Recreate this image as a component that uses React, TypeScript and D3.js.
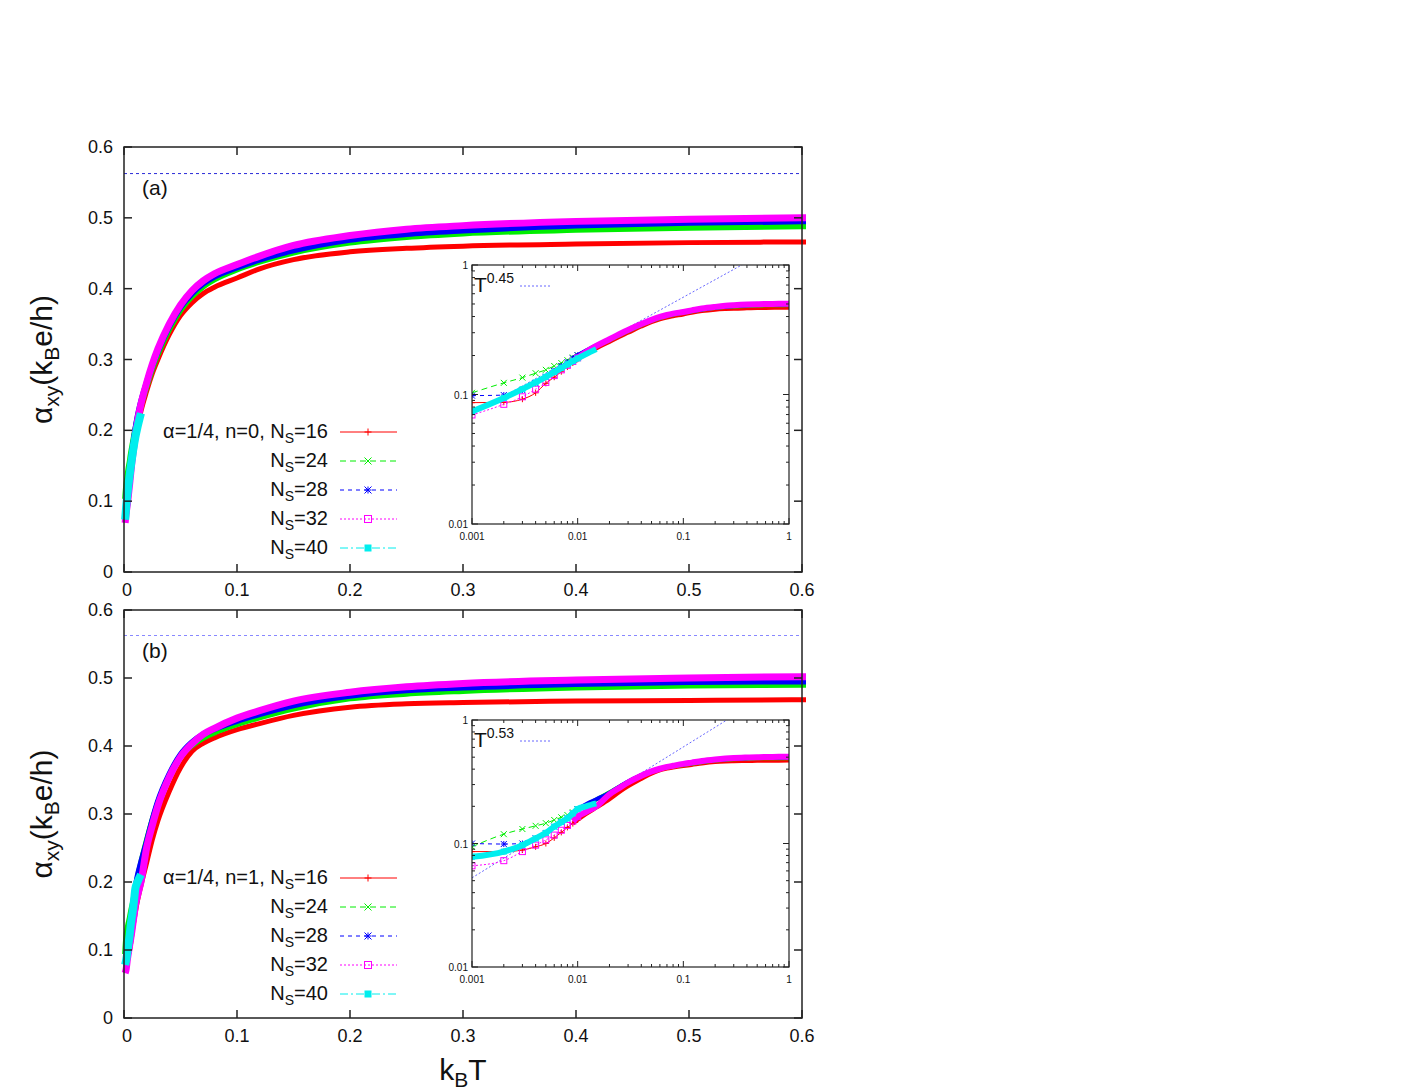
import React from 'react';
import * as d3 from 'd3';

// temperatures (k_B T) shared by all series
const temps = [0.001, 0.002, 0.003, 0.004, 0.005, 0.006, 0.007, 0.008, 0.009, 0.01, 0.012, 0.015, 0.02, 0.025, 0.03, 0.04, 0.05, 0.06, 0.07, 0.08, 0.1, 0.12, 0.15, 0.2, 0.25, 0.3, 0.4, 0.5, 0.6, 0.8, 1.0];

// panel (a): n=0
const a16 = [0.0865, 0.087, 0.092, 0.103, 0.122, 0.136, 0.15, 0.163, 0.175, 0.187, 0.205, 0.227, 0.255, 0.28, 0.3, 0.335, 0.362, 0.38, 0.393, 0.402, 0.415, 0.428, 0.441, 0.452, 0.457, 0.46, 0.463, 0.465, 0.466, 0.467, 0.467];
const a24 = [0.103, 0.123, 0.135, 0.146, 0.155, 0.166, 0.175, 0.184, 0.193, 0.201, 0.217, 0.236, 0.262, 0.287, 0.308, 0.343, 0.37, 0.389, 0.403, 0.413, 0.427, 0.438, 0.451, 0.465, 0.473, 0.478, 0.483, 0.486, 0.488, 0.489, 0.49];
const a28 = [0.098, 0.099, 0.108, 0.122, 0.137, 0.152, 0.166, 0.178, 0.19, 0.201, 0.219, 0.24, 0.267, 0.291, 0.312, 0.347, 0.374, 0.393, 0.407, 0.417, 0.43, 0.441, 0.454, 0.469, 0.477, 0.482, 0.489, 0.493, 0.495, 0.496, 0.497];
const a32 = [0.0695, 0.084, 0.096, 0.11, 0.124, 0.14, 0.155, 0.168, 0.18, 0.192, 0.213, 0.237, 0.267, 0.293, 0.315, 0.35, 0.377, 0.397, 0.411, 0.421, 0.434, 0.446, 0.461, 0.475, 0.484, 0.489, 0.495, 0.498, 0.5, 0.501, 0.502];
const a40 = [0.074, 0.094, 0.11, 0.124, 0.137, 0.149, 0.16, 0.171, 0.181, 0.19, 0.205, 0.224];

// panel (b): n=1
const b16 = [0.086, 0.086, 0.0885, 0.094, 0.1, 0.111, 0.123, 0.135, 0.145, 0.155, 0.173, 0.195, 0.228, 0.262, 0.29, 0.333, 0.368, 0.392, 0.404, 0.412, 0.424, 0.433, 0.445, 0.457, 0.462, 0.464, 0.466, 0.467, 0.468, 0.468, 0.469];
const b24 = [0.094, 0.119, 0.131, 0.139, 0.146, 0.155, 0.163, 0.17, 0.179, 0.188, 0.205, 0.227, 0.26, 0.29, 0.316, 0.356, 0.385, 0.401, 0.412, 0.42, 0.432, 0.442, 0.455, 0.47, 0.477, 0.481, 0.486, 0.489, 0.49, 0.491, 0.491];
const b28 = [0.1, 0.099, 0.1, 0.11, 0.121, 0.137, 0.149, 0.16, 0.175, 0.189, 0.208, 0.228, 0.258, 0.29, 0.318, 0.358, 0.387, 0.405, 0.417, 0.425, 0.437, 0.447, 0.46, 0.474, 0.482, 0.486, 0.491, 0.494, 0.495, 0.496, 0.497];
const b32 = [0.066, 0.0726, 0.086, 0.097, 0.107, 0.117, 0.128, 0.14, 0.152, 0.165, 0.18, 0.2, 0.25, 0.283, 0.312, 0.354, 0.384, 0.403, 0.417, 0.426, 0.441, 0.452, 0.466, 0.479, 0.487, 0.492, 0.497, 0.5, 0.502, 0.503, 0.504];
const b40 = [0.078, 0.086, 0.097, 0.11, 0.122, 0.137, 0.149, 0.16, 0.175, 0.19, 0.2, 0.211];

// power-law guide lines in the insets (two end points, log-log)
const fitA = [{ t: 0.001, v: 0.071 }, { t: 1, v: 1.59 }];
const fitB = [{ t: 0.001, v: 0.0527 }, { t: 1, v: 2.05 }];
const refLevel = 0.5625;

const seriesNames = ['16', '24', '28', '32', '40'];
const xTicks = [0, 0.1, 0.2, 0.3, 0.4, 0.5, 0.6];
const yTicks = [0, 0.1, 0.2, 0.3, 0.4, 0.5, 0.6];
const insetTicks = [0.001, 0.01, 0.1, 1];
const insetYTicks = [0.01, 0.1, 1];

const styles = [
  { color: '#ff0000', dash: null, mark: 'plus', band: 5, iband: 4 },
  { color: '#00ee00', dash: '6,4', mark: 'cross', band: 6, iband: 4 },
  { color: '#0000ff', dash: '4,4', mark: 'star', band: 6, iband: 4 },
  { color: '#ff00ff', dash: '2,2', mark: 'box', band: 7, iband: 6 },
  { color: '#00eeee', dash: '8,3,2,3', mark: 'fbox', band: 8, iband: 6 },
];

const FONT = '"Liberation Sans", Arial, Helvetica, sans-serif';
const X0 = 124;
const X1 = 802;

const Marker = ({ kind, x, y, s, color }) => {
  if (kind === 'plus') return <path d={`M${x - s},${y}H${x + s}M${x},${y - s}V${y + s}`} stroke={color} strokeWidth={1} fill="none" />;
  if (kind === 'cross') return <path d={`M${x - s},${y - s}L${x + s},${y + s}M${x - s},${y + s}L${x + s},${y - s}`} stroke={color} strokeWidth={1} fill="none" />;
  if (kind === 'star') return <path d={`M${x - s},${y}H${x + s}M${x},${y - s}V${y + s}M${x - s},${y - s}L${x + s},${y + s}M${x - s},${y + s}L${x + s},${y - s}`} stroke={color} strokeWidth={1} fill="none" />;
  if (kind === 'box') return <rect x={x - s} y={y - s} width={2 * s} height={2 * s} stroke={color} strokeWidth={1} fill="none" />;
  return <rect x={x - s} y={y - s} width={2 * s} height={2 * s} fill={color} />;
};

const Panel = ({ id, top, bottom, values, n, fit, fitLabel, refColor, inset, legendY, tag }) => {
  const x = d3.scaleLinear().domain([0, 0.6]).range([X0, X1]);
  const y = d3.scaleLinear().domain([0, 0.6]).range([bottom, top]);
  const ix = d3.scaleLog().domain([0.001, 1]).range([inset.left, inset.right]);
  const iy = d3.scaleLog().domain([0.01, 1]).range([inset.bottom, inset.top]);

  const rows = values.map(vals => vals.map((v, i) => ({ t: temps[i], v })));
  const line = d3.line().x(d => x(d.t)).y(d => y(d.v)).curve(d3.curveMonotoneX);
  const iline = d3.line().x(d => ix(d.t)).y(d => iy(d.v)).curve(d3.curveMonotoneX);
  const fitLine = d3.line().x(d => ix(d.t)).y(d => iy(d.v));

  const minors = [];
  [0.001, 0.01, 0.1].forEach(dec => {
    for (let k = 2; k <= 9; k++) minors.push(dec * k);
  });
  const yMinors = [];
  [0.01, 0.1].forEach(dec => {
    for (let k = 2; k <= 9; k++) yMinors.push(dec * k);
  });
  const iw = inset.right - inset.left;
  const ih = inset.bottom - inset.top;

  return (
    <g>
      <defs>
        <clipPath id={`main-${id}`}>
          <rect x={X0 - 6} y={top} width={X1 - X0 + 10} height={bottom - top + 6} />
        </clipPath>
        <clipPath id={`clip-${id}`}>
          <rect x={inset.left} y={inset.top} width={iw} height={ih} />
        </clipPath>
      </defs>

      {/* reference level */}
      <line x1={X0} x2={X1} y1={y(refLevel)} y2={y(refLevel)} stroke={refColor} strokeWidth={1} strokeDasharray="3,3" />

      {/* thick bands of dense markers */}
      <g clipPath={`url(#main-${id})`}>
        {rows.map((r, i) => (
          <path key={i} d={line(r)} fill="none" stroke={styles[i].color} strokeWidth={styles[i].band} />
        ))}
      </g>

      {/* frame and ticks */}
      <rect x={X0} y={top} width={X1 - X0} height={bottom - top} fill="none" stroke="#222" strokeWidth={1.5} />
      {xTicks.map(t => (
        <g key={t}>
          <line x1={x(t)} x2={x(t)} y1={bottom} y2={bottom - 8} stroke="#222" strokeWidth={1.5} />
          <line x1={x(t)} x2={x(t)} y1={top} y2={top + 8} stroke="#222" strokeWidth={1.5} />
          <text x={x(t) + (t === 0 ? 3 : 0)} y={bottom + 24} textAnchor="middle" fontSize={18} fontFamily={FONT} fill="#111">{t}</text>
        </g>
      ))}
      {yTicks.map(t => (
        <g key={t}>
          <line x1={X0} x2={X0 + 8} y1={y(t)} y2={y(t)} stroke="#222" strokeWidth={1.5} />
          <line x1={X1} x2={X1 - 8} y1={y(t)} y2={y(t)} stroke="#222" strokeWidth={1.5} />
          <text x={113} y={y(t) + 6} textAnchor="end" fontSize={18} fontFamily={FONT} fill="#111">{t}</text>
        </g>
      ))}

      <text x={142} y={top + 48} fontSize={21} fontFamily={FONT} fill="#111">{tag}</text>

      <text transform={`translate(52,${(top + bottom) / 2}) rotate(-90)`} textAnchor="middle" fontSize={30} fontFamily={FONT} fill="#111">
        α<tspan fontSize={21} dy={7}>xy</tspan><tspan dy={-7}>(k</tspan><tspan fontSize={21} dy={7}>B</tspan><tspan dy={-7}>e/h)</tspan>
      </text>

      {/* legend */}
      {seriesNames.map((name, i) => {
        const ly = legendY + i * 29;
        const st = styles[i];
        return (
          <g key={name}>
            <text x={328} y={ly + 6} textAnchor="end" fontSize={20} fontFamily={FONT} fill="#111">
              {i === 0 ? `α=1/4, n=${n}, N` : 'N'}<tspan fontSize={14} dy={5}>S</tspan><tspan dy={-5}>={name}</tspan>
            </text>
            <line x1={340} x2={397} y1={ly} y2={ly} stroke={st.color} strokeWidth={1} strokeDasharray={st.dash || undefined} />
            <Marker kind={st.mark} x={368} y={ly} s={3.5} color={st.color} />
          </g>
        );
      })}

      {/* inset */}
      <rect x={inset.left} y={inset.top} width={iw} height={ih} fill="#fff" />
      <g clipPath={`url(#clip-${id})`}>
        <path d={fitLine(fit)} fill="none" stroke="#6666ff" strokeWidth={1} strokeDasharray="2,2" />
        {rows.map((r, i) => {
          const st = styles[i];
          const thin = r.filter(d => d.t <= 0.012);
          const thick = i === 4 ? r : r.filter(d => d.t >= 0.009);
          return (
            <g key={i}>
              <path d={iline(thin)} fill="none" stroke={st.color} strokeWidth={1} strokeDasharray={st.dash || undefined} />
              <path d={iline(thick)} fill="none" stroke={st.color} strokeWidth={st.iband} />
              {r.filter(d => d.t <= 0.01).map(d => (
                <Marker key={d.t} kind={st.mark} x={ix(d.t)} y={iy(d.v)} s={3} color={st.color} />
              ))}
            </g>
          );
        })}
      </g>
      <rect x={inset.left} y={inset.top} width={iw} height={ih} fill="none" stroke="#222" strokeWidth={1.2} />
      {insetTicks.map(t => (
        <g key={t}>
          <line x1={ix(t)} x2={ix(t)} y1={inset.bottom} y2={inset.bottom - 6} stroke="#222" />
          <line x1={ix(t)} x2={ix(t)} y1={inset.top} y2={inset.top + 6} stroke="#222" />
          <text x={ix(t)} y={inset.bottom + 16} textAnchor="middle" fontSize={10} fontFamily={FONT} fill="#111">{t}</text>
        </g>
      ))}
      {minors.map(t => (
        <g key={t}>
          <line x1={ix(t)} x2={ix(t)} y1={inset.bottom} y2={inset.bottom - 3} stroke="#222" />
          <line x1={ix(t)} x2={ix(t)} y1={inset.top} y2={inset.top + 3} stroke="#222" />
        </g>
      ))}
      {insetYTicks.map(t => (
        <g key={t}>
          <line x1={inset.left} x2={inset.left + 6} y1={iy(t)} y2={iy(t)} stroke="#222" />
          <line x1={inset.right} x2={inset.right - 6} y1={iy(t)} y2={iy(t)} stroke="#222" />
          <text x={inset.left - 4} y={iy(t) + 4} textAnchor="end" fontSize={10} fontFamily={FONT} fill="#111">{t}</text>
        </g>
      ))}
      {yMinors.map(t => (
        <g key={t}>
          <line x1={inset.left} x2={inset.left + 3} y1={iy(t)} y2={iy(t)} stroke="#222" />
          <line x1={inset.right} x2={inset.right - 3} y1={iy(t)} y2={iy(t)} stroke="#222" />
        </g>
      ))}
      <text x={inset.left + 2} y={inset.top + 27} fontSize={21} fontFamily={FONT} fill="#111">
        T<tspan fontSize={14} dy={-9}>{fitLabel}</tspan>
      </text>
      <line x1={inset.left + 48} x2={inset.left + 78} y1={inset.top + 21} y2={inset.top + 21} stroke="#6666ff" strokeWidth={1} strokeDasharray="2,2" />
    </g>
  );
};

export default function App() {
  return (
    <svg width={1412} height={1091} style={{ position: 'absolute', left: 0, top: 0, background: '#fff' }}>
      <rect width={1412} height={1091} fill="#fff" />
      <Panel
        id="a"
        top={147}
        bottom={572}
        values={[a16, a24, a28, a32, a40]}
        n={0}
        fit={fitA}
        fitLabel="0.45"
        refColor="#2a2ad8"
        inset={{ left: 472, right: 789, top: 265, bottom: 524 }}
        legendY={432}
        tag="(a)"
      />
      <Panel
        id="b"
        top={610}
        bottom={1018}
        values={[b16, b24, b28, b32, b40]}
        n={1}
        fit={fitB}
        fitLabel="0.53"
        refColor="#8888ff"
        inset={{ left: 472, right: 789, top: 720, bottom: 967 }}
        legendY={878}
        tag="(b)"
      />
      <text x={463} y={1080} textAnchor="middle" fontSize={30} fontFamily={FONT} fill="#111">
        k<tspan fontSize={21} dy={7}>B</tspan><tspan dy={-7}>T</tspan>
      </text>
    </svg>
  );
}
